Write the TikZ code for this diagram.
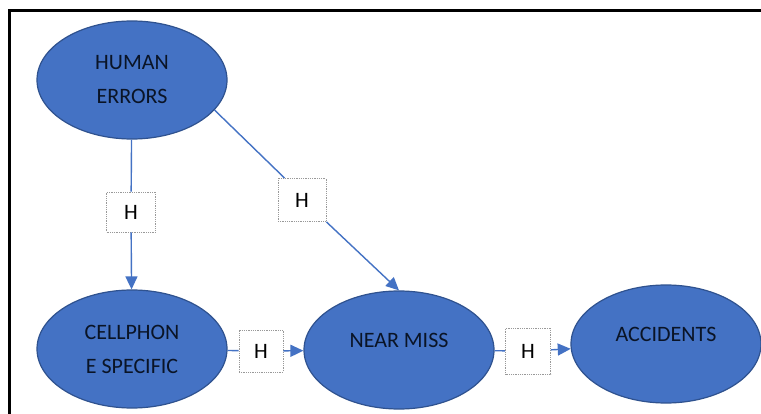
\documentclass[tikz,border=0pt]{standalone}
\usepackage{fontspec}
\setmainfont{Carlito}
\usetikzlibrary{arrows.meta,shapes.geometric}
\definecolor{ellfill}{HTML}{4472C4}
\definecolor{elldraw}{HTML}{2F528F}
\definecolor{txt}{HTML}{0A1426}
\definecolor{conn}{HTML}{4472C4}
\begin{document}
\begin{tikzpicture}[x=1pt,y=-1pt,
  ell/.style={ellipse, fill=ellfill, draw=elldraw, line width=1.2pt,
    minimum width=190pt, minimum height=118pt, inner sep=0pt,
    text=txt, font=\fontsize{22}{34}\selectfont, align=center},
  hbox/.style={draw=gray!80, densely dotted, line width=0.8pt, fill=white,
    minimum width=46pt, minimum height=42pt, inner sep=0pt,
    font=\fontsize{22}{24}\selectfont, text=black},
  link/.style={draw=conn, line width=1.4pt},
  arr/.style={link, -{Triangle[length=13pt,width=12pt]}}
]
\useasboundingbox (0,0) rectangle (761,414);
\fill[white] (0,0) rectangle (761,414);
\draw[line width=3pt] (9.5,414) -- (9.5,10.5) -- (761,10.5);

\node[ell] (he) at (132,80) {HUMAN\\ERRORS};
\node[ell] (cell) at (132,349) {CELLPHON\\E SPECIFIC};
\node[ell, label={[text=txt, font=\fontsize{22}{34}\selectfont, yshift=10pt]center:NEAR MISS}] (nm) at (399,350) {};
\node[ell, label={[text=txt, font=\fontsize{22}{34}\selectfont, yshift=10pt]center:ACCIDENTS}] (acc) at (666,344) {};

\node[hbox, minimum width=49pt, minimum height=40pt] (b1) at (131,212) {H};
\node[hbox, minimum width=48pt, minimum height=43pt] (b2) at (302,200) {H};
\node[hbox, minimum width=44pt, minimum height=42pt] (b3) at (261,351) {H};
\node[hbox, minimum width=45pt, minimum height=46pt] (b4) at (528,351) {H};

\draw[link] (he) -- (b1);
\draw[arr] (b1) -- (cell);
\draw[link] (he.-20) -- ([xshift=7pt]b2.north west);
\draw[arr] (b2.south east) -- (nm.north);
\draw[link] (cell) -- (b3);
\draw[arr] (b3) -- (nm);
\draw[link] (nm) -- (b4);
\draw[arr] (b4) -- (acc);
\end{tikzpicture}
\end{document}
